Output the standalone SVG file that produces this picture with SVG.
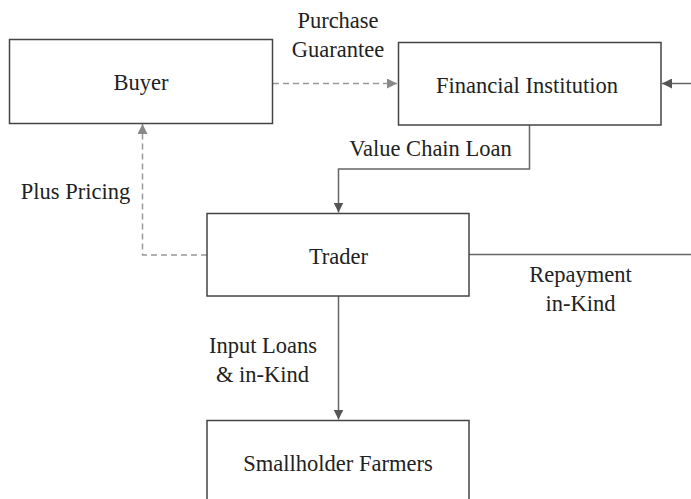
<svg xmlns="http://www.w3.org/2000/svg" width="691" height="499" viewBox="0 0 691 499">
<style>
.box{fill:#fff;stroke:#444;stroke-width:1.5}
.t{font-family:"Liberation Serif","Times New Roman",serif;font-size:22.5px;fill:#222;text-anchor:middle}
.solid{fill:none;stroke:#666;stroke-width:1.5}
.dash{fill:none;stroke:#999;stroke-width:1.5;stroke-dasharray:6 4}
</style>
<defs>
<marker id="ah" markerWidth="10" markerHeight="10" refX="10" refY="5" orient="auto" markerUnits="userSpaceOnUse"><path d="M0,0 L10,5 L0,10 Z" fill="#555"/></marker>
<marker id="ahg" markerWidth="10" markerHeight="10" refX="10" refY="5" orient="auto" markerUnits="userSpaceOnUse"><path d="M0,0 L10,5 L0,10 Z" fill="#888"/></marker>
</defs>
<g id="connectors">
<path class="dash" d="M273,83.5 H397" marker-end="url(#ahg)"/>
<path class="solid" d="M691,83.5 H662" marker-end="url(#ah)"/>
<path class="solid" d="M529.5,125 V169 H338.5 V212.5" marker-end="url(#ah)"/>
<path class="dash" d="M207,255 H142.5 V124" marker-end="url(#ahg)"/>
<path class="solid" d="M469,254.5 H691"/>
<path class="solid" d="M338.5,296 V419.5" marker-end="url(#ah)"/>
</g>
<g id="labels">
<text class="t" x="338" y="28">Purchase</text>
<text class="t" x="338" y="57">Guarantee</text>
<text class="t" x="430.5" y="156">Value Chain Loan</text>
<text class="t" x="75.5" y="199">Plus Pricing</text>
<text class="t" x="580.5" y="282">Repayment</text>
<text class="t" x="580.5" y="311">in-Kind</text>
<text class="t" x="263" y="353">Input Loans</text>
<text class="t" x="262.5" y="382">&amp; in-Kind</text>
</g>
<g id="buyer">
<rect class="box" x="9.5" y="39.5" width="263" height="84"/>
<text class="t" x="141" y="90">Buyer</text>
</g>
<g id="financial-institution">
<rect class="box" x="398.5" y="42.5" width="262.5" height="82.5"/>
<text class="t" x="527" y="92.5">Financial Institution</text>
</g>
<g id="trader">
<rect class="box" x="207" y="213.5" width="262" height="82.5"/>
<text class="t" x="338.5" y="264">Trader</text>
</g>
<g id="smallholder-farmers">
<rect class="box" x="207" y="420.5" width="262" height="90"/>
<text class="t" x="338" y="471">Smallholder Farmers</text>
</g>
</svg>
